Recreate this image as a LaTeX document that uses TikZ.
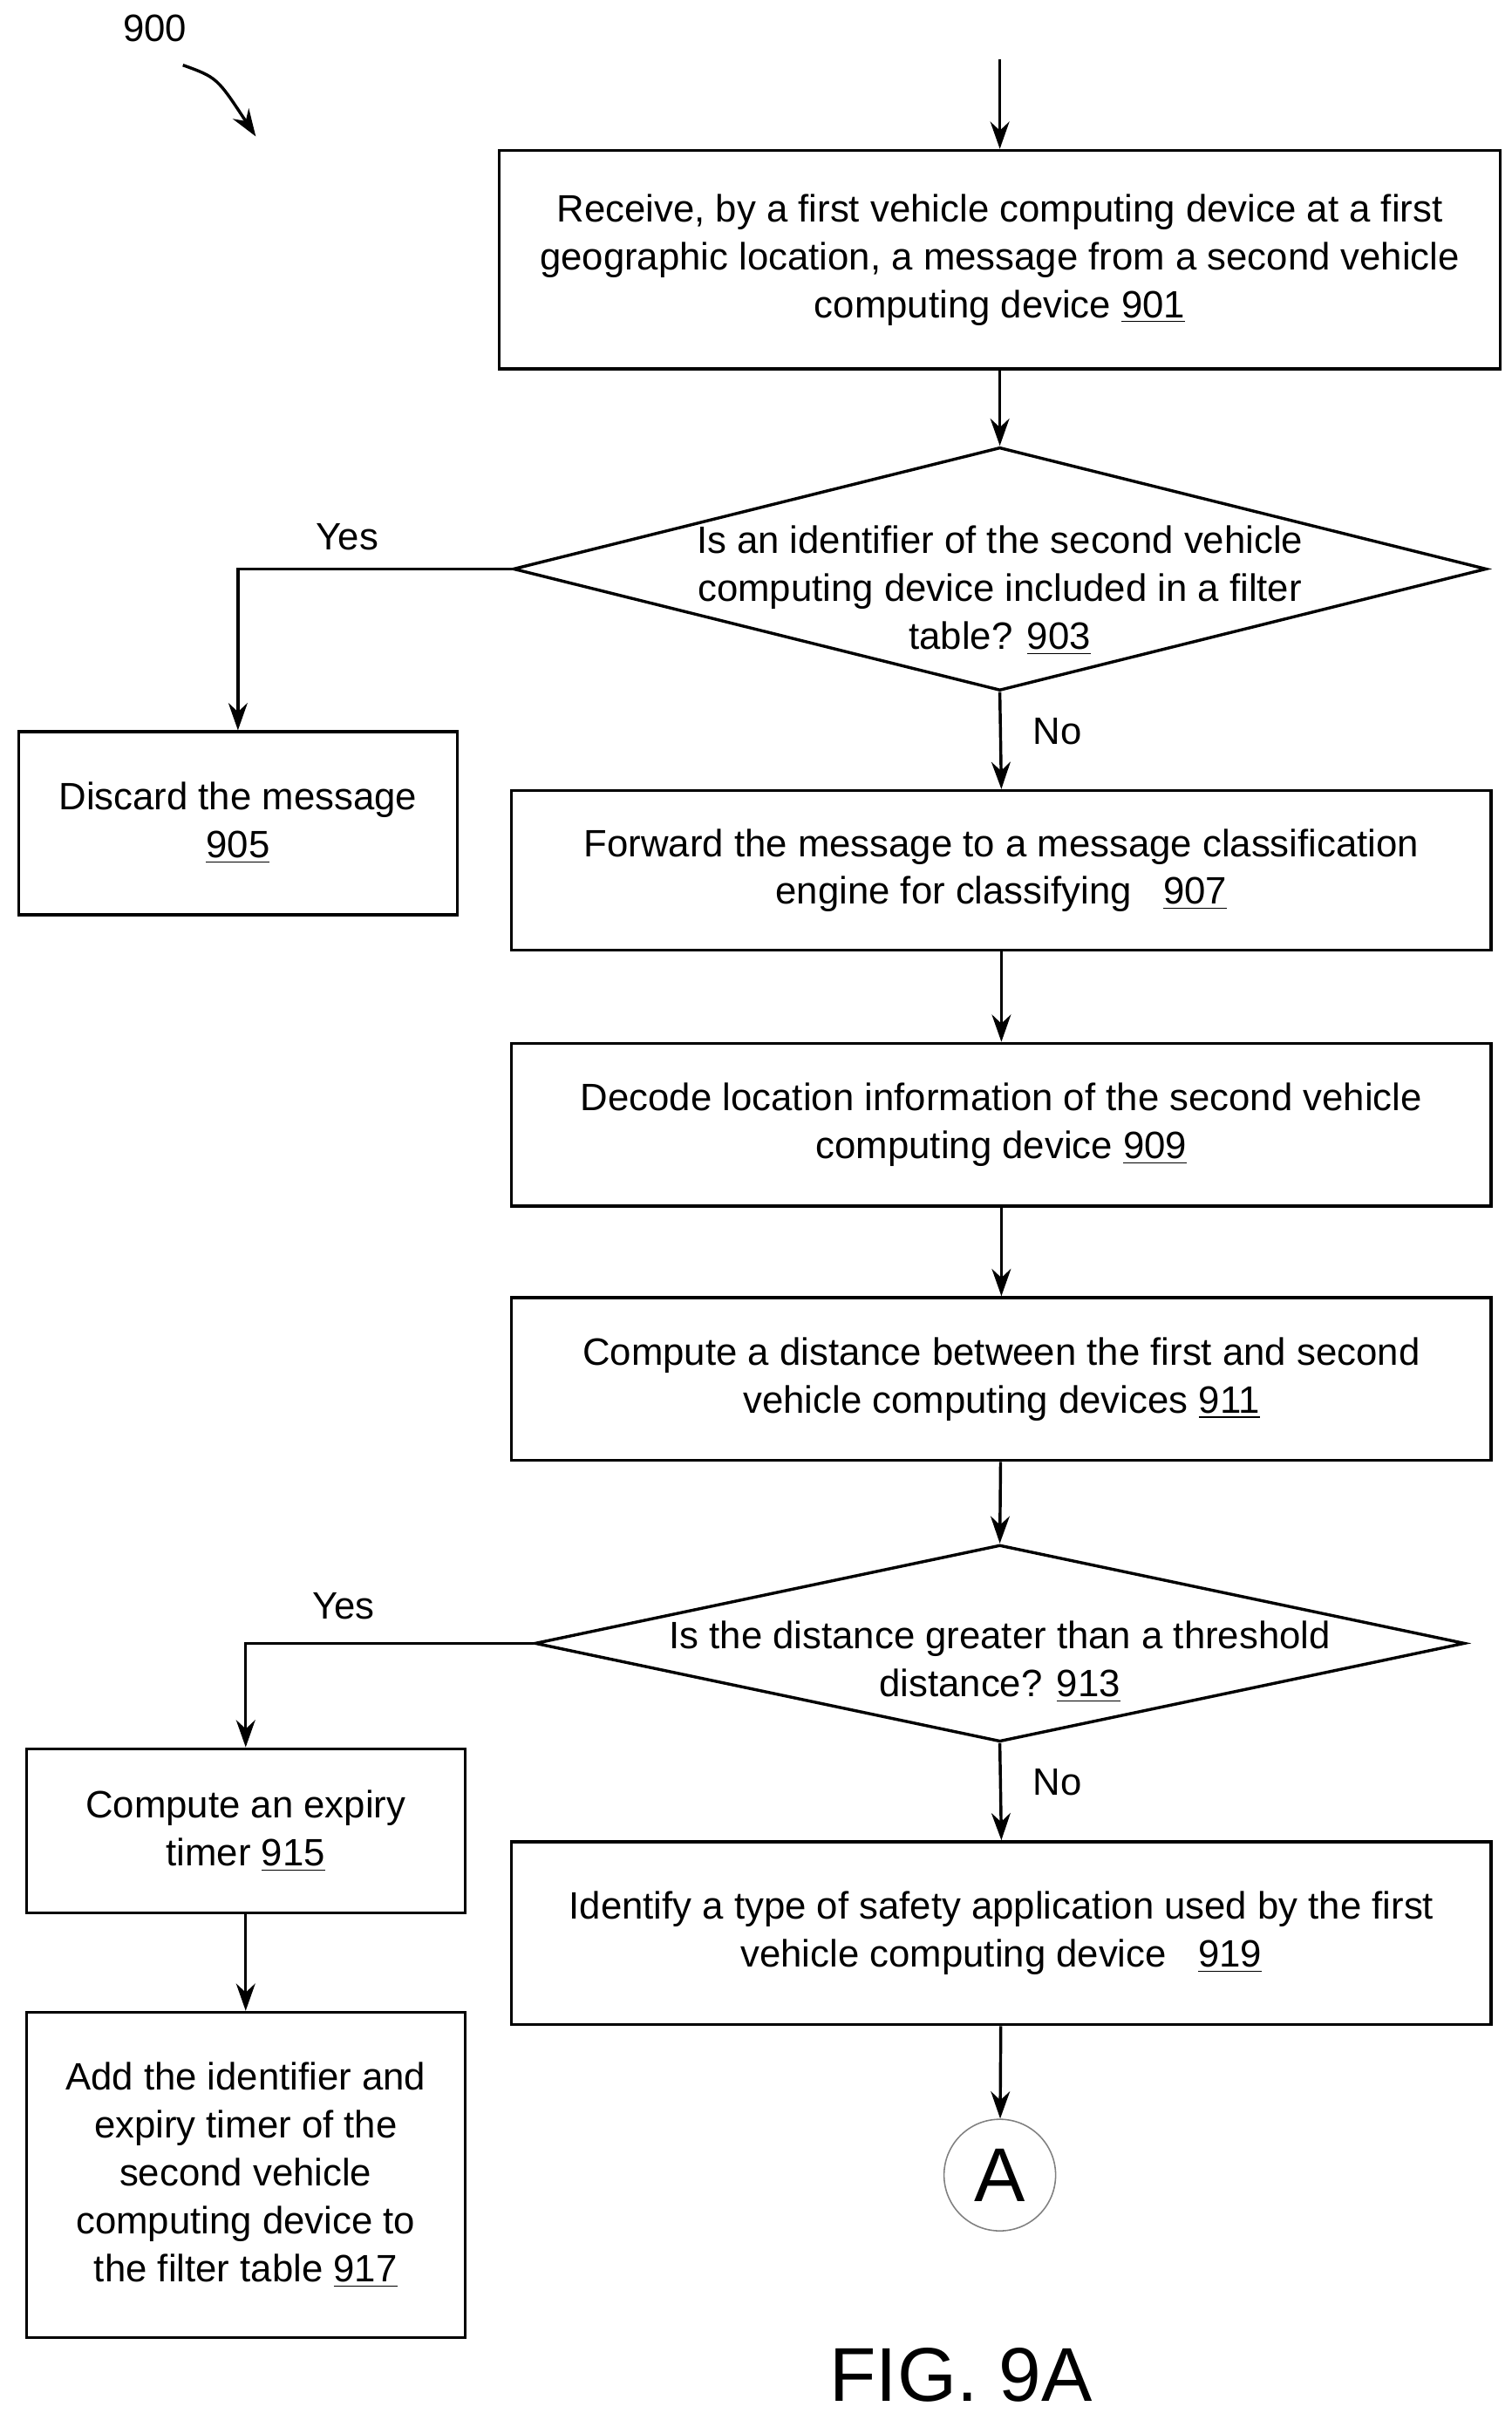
\documentclass[tikz,border=0pt]{standalone}
\usepackage{fontspec}
\setmainfont{Liberation Sans}
\usetikzlibrary{shapes.geometric,arrows.meta}

\begin{document}
\begin{tikzpicture}[x=0.02cm,y=-0.02cm,line width=1.1pt,
    every node/.style={font=\fontsize{14}{17.6}\selectfont},
    box/.style={draw, rectangle, align=center, inner sep=2pt},
    dia/.style={draw, diamond, inner sep=0pt},
    arr/.style={-{Stealth[length=10pt,width=7pt]}}]
  \useasboundingbox (0,0) rectangle (975,1561);
  % label 900
  \node (lbl) at (100,18) {900};
  \coordinate (c1) at (118,42);
  \coordinate (c2) at (165,88);
  \draw[arr] (c1) .. controls (140,50) .. (c2);
  % top entry
  \coordinate (top) at (645,38);
  \node[box, minimum width=12.92cm, minimum height=2.82cm] (b901) at (645,167.5)
    {Receive, by a first vehicle computing device at a first\\geographic location, a message from a second vehicle\\computing device \underline{901}};
  \node[dia, minimum width=12.56cm, minimum height=3.14cm] (d903) at (645,367) {};
  \node[align=center] (t903) at (645,381) {Is an identifier of the second vehicle\\computing device included in a filter\\table? \underline{903}};
  \node[box, minimum width=5.66cm, minimum height=2.36cm] (b905) at (153.5,531) {Discard the message\\\underline{905}};
  \node[box, minimum width=12.64cm, minimum height=2.06cm] (b907) at (646,561.5) {Forward the message to a message classification\\engine for classifying \ \ \underline{907}};
  \node[box, minimum width=12.64cm, minimum height=2.1cm] (b909) at (646,725.5) {Decode location information of the second vehicle\\computing device \underline{909}};
  \node[box, minimum width=12.64cm, minimum height=2.1cm] (b911) at (646,889.5) {Compute a distance between the first and second\\vehicle computing devices \underline{911}};
  \node[dia, minimum width=12cm, minimum height=2.54cm] (d913) at (645,1060) {};
  \node[align=center] (t913) at (645,1072) {Is the distance greater than a threshold\\distance? \underline{913}};
  \node[box, minimum width=5.66cm, minimum height=2.12cm] (b915) at (158.5,1181) {Compute an expiry\\timer \underline{915}};
  \node[box, minimum width=5.66cm, minimum height=4.2cm] (b917) at (158.5,1403) {Add the identifier and\\expiry timer of the\\second vehicle\\computing device to\\the filter table \underline{917}};
  \node[box, minimum width=12.64cm, minimum height=2.36cm] (b919) at (646,1247) {Identify a type of safety application used by the first\\vehicle computing device \ \ \underline{919}};
  \node[draw=gray, line width=0.5pt, circle, minimum size=1.44cm, inner sep=0pt,
    font=\fontsize{28}{30}\selectfont] (cA) at (645,1403) {A};
  \node[font=\fontsize{28}{30}\selectfont] (fig) at (620,1532) {FIG. 9A};
  % connectors
  \draw[arr] (top) -- (b901);
  \draw[arr] (b901) -- (d903.north);
  \draw[arr] (d903.west) -| (b905.north) node[pos=0.3,above=3pt] {Yes};
  \draw[arr] (d903.south) -- (b907.north) node[pos=0.4,right=8pt] {No};
  \draw[arr] (b907) -- (b909);
  \draw[arr] (b909) -- (b911);
  \draw[arr] (b911) -- (d913.north);
  \draw[arr] (d913.west) -| (b915.north) node[pos=0.33,above=5pt] {Yes};
  \draw[arr] (d913.south) -- (b919.north) node[pos=0.4,right=8pt] {No};
  \draw[arr] (b915) -- (b917);
  \draw[arr] (b919) -- (cA);
\end{tikzpicture}
\end{document}
